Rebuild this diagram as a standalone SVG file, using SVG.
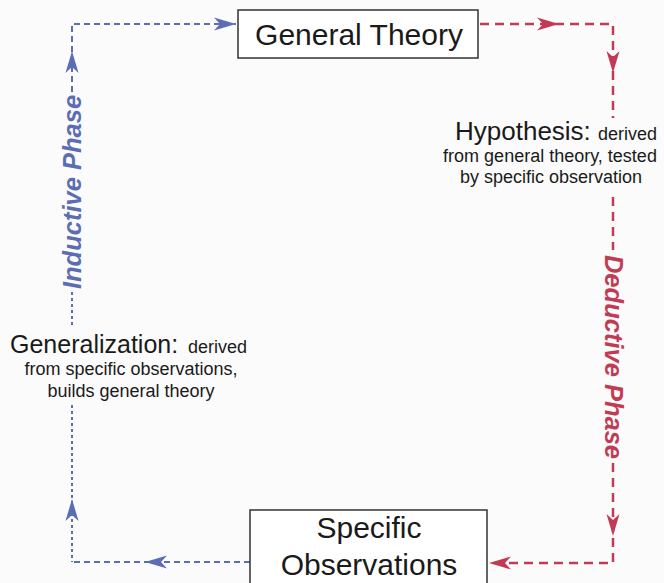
<svg xmlns="http://www.w3.org/2000/svg" xmlns:xlink="http://www.w3.org/1999/xlink" width="664" height="583" viewBox="0 0 664 583">
<style>
.bg{fill:#fbfbfb}
.box{fill:#ffffff;stroke:#333;stroke-width:1.5}
.title{font-family:"Liberation Sans",Arial,sans-serif;font-size:30px;fill:#1a1a1a;text-anchor:middle}
.big{font-family:"Liberation Sans",Arial,sans-serif;font-size:25px;fill:#1a1a1a}
.small{font-family:"Liberation Sans",Arial,sans-serif;font-size:18px;fill:#1a1a1a}
.phase{font-family:"Liberation Sans",Arial,sans-serif;font-size:25.5px;font-weight:bold;font-style:italic;text-anchor:middle}
.blue{stroke:#5b6db3;stroke-width:2;fill:none;stroke-dasharray:6 4}
.bluedot{stroke:#5b6db3;stroke-width:2;fill:none;stroke-dasharray:3 3}
.red{stroke:#c23b55;stroke-width:2.5;fill:none;stroke-dasharray:9 6}
.hb{fill:#5b6db3}
.hr{fill:#c23b55}
</style>
<defs>
<path id="ah" d="M0,0 L-22,-6.5 L-16,0 L-22,6.5 Z"/>
</defs>
<rect class="bg" x="0" y="0" width="664" height="583"/>

<g id="connectors">
  <path class="blue" d="M72,92 L72,24 L236,24"/>
  <path class="bluedot" d="M72,292 L72,326"/>
  <path class="bluedot" d="M72,405 L72,562"/>
  <path class="blue" d="M250,562 L72,562"/>
  <use href="#ah" class="hb" transform="translate(236,24)"/>
  <use href="#ah" class="hb" transform="translate(72,51) rotate(-90)"/>
  <use href="#ah" class="hb" transform="translate(72,499) rotate(-90)"/>
  <use href="#ah" class="hb" transform="translate(145,562) rotate(180)"/>
  <path class="red" d="M480,24 L613,24 L613,118"/>
  <path class="red" d="M613,197 L613,250"/>
  <path class="red" d="M613,463 L613,563 L489,563"/>
  <use href="#ah" class="hr" transform="translate(559,24)"/>
  <use href="#ah" class="hr" transform="translate(613,73) rotate(90)"/>
  <use href="#ah" class="hr" transform="translate(613,536) rotate(90)"/>
  <use href="#ah" class="hr" transform="translate(489,563) rotate(180)"/>
</g>

<g id="general-theory">
  <rect class="box" x="238" y="10" width="240" height="48"/>
  <text class="title" x="359" y="45">General Theory</text>
</g>

<g id="specific-observations">
  <rect class="box" x="250" y="510" width="237" height="85"/>
  <text class="title" x="369" y="538">Specific</text>
  <text class="title" x="369" y="575">Observations</text>
</g>

<g id="hypothesis">
  <text class="big" x="455" y="140" style="font-size:26px">Hypothesis:</text>
  <text class="small" x="598" y="140">derived</text>
  <text class="small" x="550" y="162" text-anchor="middle">from general theory, tested</text>
  <text class="small" x="551" y="183" text-anchor="middle">by specific observation</text>
</g>

<g id="generalization">
  <text class="big" x="10" y="353">Generalization:</text>
  <text class="small" x="188" y="353">derived</text>
  <text class="small" x="131" y="375" text-anchor="middle">from specific observations,</text>
  <text class="small" x="131" y="397" text-anchor="middle">builds general theory</text>
</g>

<g id="inductive-phase">
  <text class="phase" fill="#5b6db3" transform="translate(81,192) rotate(-90)">Inductive Phase</text>
</g>

<g id="deductive-phase">
  <text class="phase" fill="#c23b55" transform="translate(605,357) rotate(90)">Deductive Phase</text>
</g>
</svg>
